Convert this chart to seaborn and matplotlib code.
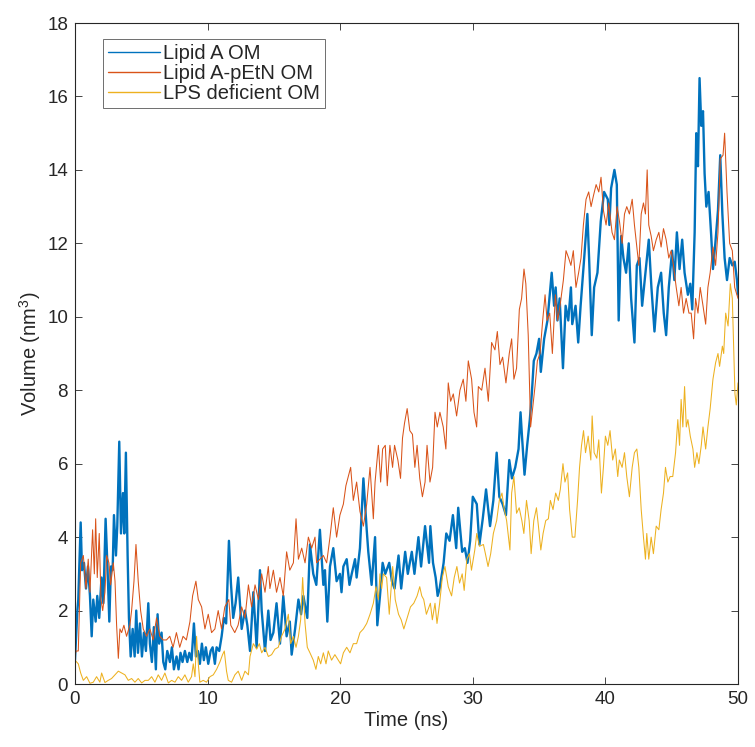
import matplotlib
matplotlib.use('Agg')
import matplotlib.pyplot as plt
import seaborn as sns
import pandas as pd

# values: time (ns) and volume (nm^3)
t_lipid_a = [0.0, 0.18, 0.25, 0.43, 0.53, 0.68, 0.83, 0.98, 1.13, 1.26, 1.38, 1.56, 1.68, 1.83, 2.0,
             2.14, 2.31, 2.46, 2.59, 2.71, 2.84, 2.94, 3.09, 3.19, 3.34, 3.47, 3.62, 3.72, 3.84, 3.97,
             4.07, 4.2, 4.35, 4.5, 4.62, 4.75, 4.9, 5.05, 5.2, 5.35, 5.53, 5.65, 5.8, 5.95, 6.1,
             6.23, 6.35, 6.53, 6.66, 6.81, 6.96, 7.16, 7.31, 7.46, 7.66, 7.81, 7.96, 8.11, 8.29, 8.47,
             8.62, 8.79, 8.97, 9.12, 9.27, 9.42, 9.57, 9.72, 9.87, 10.05, 10.23, 10.38, 10.55, 10.68, 10.88,
             11.06, 11.23, 11.4, 11.61, 11.76, 11.93, 12.11, 12.31, 12.57, 12.82, 13.0, 13.2, 13.45, 13.7, 13.95,
             14.08, 14.33, 14.58, 14.75, 14.96, 15.2, 15.46, 15.71, 15.96, 16.2, 16.34, 16.6, 16.85, 17.05, 17.22,
             17.52, 17.72, 17.97, 18.2, 18.47, 18.73, 18.85, 19.03, 19.23, 19.48, 19.73, 19.98, 20.1, 20.24, 20.49,
             20.7, 20.87, 21.12, 21.24, 21.49, 21.75, 22.0, 22.12, 22.37, 22.63, 22.8, 23.0, 23.2, 23.4, 23.7,
             23.9, 24.1, 24.4, 24.6, 24.9, 25.1, 25.4, 25.6, 25.9, 26.1, 26.4, 26.7, 26.8, 27.0, 27.2,
             27.35, 27.5, 27.8, 28.0, 28.25, 28.5, 28.75, 28.9, 29.2, 29.4, 29.6, 29.8, 30.0, 30.3, 30.5,
             30.75, 31.0, 31.3, 31.55, 31.8, 32.0, 32.25, 32.5, 32.75, 32.95, 33.2, 33.45, 33.6, 33.7, 33.9,
             34.1, 34.3, 34.45, 34.6, 34.8, 35.0, 35.13, 35.38, 35.63, 35.95, 36.13, 36.25, 36.38, 36.55, 36.8,
             37.0, 37.2, 37.4, 37.5, 37.75, 37.95, 38.13, 38.38, 38.64, 38.77, 38.97, 39.15, 39.4, 39.65, 39.9,
             40.18, 40.3, 40.43, 40.68, 40.86, 41.0, 41.19, 41.36, 41.56, 41.76, 41.94, 42.19, 42.37, 42.57, 42.77,
             43.02, 43.27, 43.47, 43.7, 43.95, 44.2, 44.4, 44.58, 44.78, 45.03, 45.2, 45.39, 45.59, 45.79, 45.97,
             46.22, 46.4, 46.55, 46.73, 46.85, 46.98, 47.1, 47.23, 47.36, 47.48, 47.61, 47.78, 47.98, 48.11, 48.29,
             48.49, 48.66, 48.82, 48.99, 49.17, 49.37, 49.57, 49.75, 49.92, 50.0]
v_lipid_a = [0.65, 2.0, 2.3, 4.4, 3.1, 3.3, 2.6, 3.2, 2.4, 1.3, 2.3, 1.7, 2.4, 1.8, 2.9,
             2.2, 4.5, 3.1, 1.7, 3.2, 3.1, 4.6, 3.5, 4.3, 6.6, 4.1, 5.2, 4.1, 6.3, 3.5,
             1.8, 0.75, 1.5, 0.75, 2.0, 0.85, 1.65, 0.75, 1.4, 0.9, 2.2, 1.1, 0.6, 1.55, 0.4,
             1.9, 1.1, 1.4, 0.6, 0.4, 0.9, 0.6, 1.0, 0.4, 0.75, 0.4, 0.85, 0.6, 0.9, 0.6,
             0.85, 0.65, 1.65, 0.75, 0.9, 0.55, 1.1, 0.65, 1.0, 0.55, 0.9, 1.0, 0.55, 1.0, 0.9,
             1.3, 1.8, 1.65, 3.9, 2.75, 1.8, 2.2, 2.9, 1.5, 2.0, 1.6, 0.9, 2.5, 1.0, 3.1,
             2.0, 0.9, 2.0, 1.2, 1.4, 2.2, 1.1, 2.4, 1.3, 1.7, 0.8, 1.5, 2.3, 1.9, 2.4,
             1.8, 3.8, 3.0, 2.7, 4.2, 2.7, 3.1, 1.7, 3.2, 3.7, 2.8, 3.0, 2.5, 3.2, 3.4,
             2.7, 3.0, 3.4, 2.9, 3.7, 5.6, 4.2, 3.6, 2.7, 4.0, 1.6, 2.4, 3.3, 3.0, 3.3,
             2.8, 2.6, 3.5, 2.6, 3.6, 3.0, 3.6, 3.0, 4.0, 3.2, 4.3, 3.3, 4.3, 3.3, 2.9,
             2.4, 2.6, 3.3, 4.1, 3.9, 4.6, 3.7, 4.8, 3.6, 3.7, 3.3, 3.9, 5.1, 4.9, 3.8,
             4.5, 5.3, 4.3, 5.0, 6.3, 5.1, 4.9, 4.6, 6.1, 5.6, 5.9, 6.4, 7.4, 6.8, 5.7,
             6.5, 7.2, 7.9, 8.8, 9.0, 9.4, 8.5, 9.4, 9.9, 11.2, 10.3, 10.8, 9.9, 10.5, 8.6,
             10.3, 9.9, 10.8, 9.8, 10.3, 9.3, 10.3, 11.5, 12.8, 11.6, 9.5, 10.8, 11.2, 12.6, 13.4,
             13.2, 12.5, 13.5, 14.0, 13.6, 9.9, 12.2, 11.6, 11.2, 12.0, 10.5, 9.3, 11.4, 11.6, 10.3,
             11.2, 12.1, 10.8, 9.6, 10.8, 11.2, 10.1, 9.5, 10.8, 11.8, 11.0, 12.3, 11.3, 12.1, 11.2,
             10.6, 10.9, 10.2, 12.3, 15.0, 14.1, 16.5, 15.2, 15.6, 13.9, 13.0, 13.4, 12.2, 11.3, 12.0,
             12.9, 14.4, 12.8, 11.6, 11.0, 11.6, 11.4, 11.5, 11.0, 10.6]

t_petn = [0.0, 0.1, 0.25, 0.43, 0.63, 0.83, 1.0, 1.13, 1.33, 1.46, 1.56, 1.68, 1.83, 1.96, 2.09,
          2.26, 2.39, 2.56, 2.69, 2.89, 3.02, 3.14, 3.27, 3.39, 3.52, 3.69, 3.89, 4.14, 4.27, 4.45,
          4.6, 4.77, 4.95, 5.15, 5.4, 5.65, 5.9, 6.15, 6.4, 6.65, 6.9, 7.15, 7.4, 7.65, 7.9,
          8.15, 8.4, 8.67, 8.87, 9.12, 9.3, 9.55, 9.8, 10.05, 10.3, 10.55, 10.8, 11.05, 11.3, 11.6,
          11.75, 12.05, 12.3, 12.57, 12.82, 13.08, 13.32, 13.58, 13.83, 14.08, 14.33, 14.58, 14.7, 14.96, 15.2,
          15.46, 15.71, 15.96, 16.2, 16.47, 16.67, 16.85, 17.1, 17.35, 17.6, 17.85, 18.1, 18.22, 18.47, 18.73,
          18.98, 19.23, 19.48, 19.73, 19.98, 20.24, 20.43, 20.79, 20.99, 21.24, 21.49, 21.75, 22.0, 22.25, 22.5,
          22.63, 22.88, 23.05, 23.2, 23.4, 23.55, 23.75, 23.95, 24.1, 24.35, 24.55, 24.7, 24.85, 25.05, 25.25,
          25.45, 25.63, 25.8, 26.0, 26.2, 26.4, 26.55, 26.77, 26.97, 27.15, 27.32, 27.52, 27.77, 27.97, 28.15,
          28.33, 28.53, 28.78, 29.03, 29.28, 29.48, 29.66, 29.91, 30.09, 30.29, 30.42, 30.67, 30.92, 31.17, 31.42,
          31.67, 31.85, 32.05, 32.25, 32.5, 32.75, 32.93, 33.1, 33.3, 33.51, 33.68, 33.86, 34.0, 34.18, 34.36,
          34.51, 34.69, 34.87, 35.07, 35.27, 35.45, 35.6, 35.8, 36.0, 36.23, 36.4, 36.58, 36.83, 37.03, 37.23,
          37.4, 37.58, 37.78, 37.98, 38.16, 38.34, 38.54, 38.74, 38.92, 39.1, 39.3, 39.5, 39.67, 39.85, 40.05,
          40.25, 40.5, 40.68, 40.88, 41.06, 41.26, 41.44, 41.61, 41.81, 42.02, 42.19, 42.37, 42.52, 42.7, 42.87,
          43.02, 43.15, 43.27, 43.45, 43.62, 43.83, 44.03, 44.2, 44.38, 44.58, 44.78, 44.96, 45.13, 45.34, 45.54,
          45.71, 45.89, 46.09, 46.3, 46.47, 46.65, 46.8, 46.98, 47.15, 47.36, 47.56, 47.73, 47.9, 48.11, 48.31,
          48.49, 48.66, 48.87, 48.99, 49.17, 49.37, 49.57, 49.75, 49.92, 50.0]
v_petn = [0.8, 0.9, 0.9, 3.3, 3.5, 2.6, 3.4, 2.5, 4.2, 3.0, 4.5, 2.9, 4.1, 2.3, 2.0,
          2.5, 3.5, 3.3, 2.7, 3.3, 2.8, 1.6, 0.7, 1.5, 1.4, 1.6, 1.3, 1.6, 2.0, 2.8,
          3.8, 2.8, 2.0, 1.5, 1.3, 1.5, 1.2, 1.8, 1.3, 1.2, 1.2, 1.3, 1.0, 1.4, 1.0,
          1.3, 1.2, 1.7, 2.4, 2.8, 2.3, 2.1, 1.5, 1.9, 1.4, 1.5, 2.0, 1.5, 2.1, 2.3,
          1.6, 1.4, 1.6, 2.1, 1.8, 2.7, 2.1, 2.7, 2.3, 3.0, 2.5, 3.2, 2.6, 3.1, 2.5,
          2.9, 2.4, 3.6, 3.1, 3.3, 4.5, 3.4, 3.7, 3.3, 4.0, 3.7, 4.0, 3.3, 3.4, 3.5,
          3.3, 4.0, 4.8, 4.0, 4.6, 4.9, 5.4, 5.9, 5.0, 5.5, 4.7, 4.3, 4.9, 5.9, 4.5,
          5.5, 6.5, 5.5, 6.4, 6.5, 5.4, 6.5, 5.9, 6.5, 6.1, 5.6, 6.7, 7.1, 7.5, 6.9,
          6.8, 5.9, 6.5, 5.6, 5.1, 5.5, 6.5, 5.5, 5.9, 7.4, 7.0, 7.4, 7.0, 6.4, 8.2,
          7.7, 7.9, 7.3, 8.0, 8.3, 7.7, 8.8, 8.3, 7.4, 7.0, 8.1, 8.0, 8.6, 7.7, 9.3,
          9.1, 9.6, 8.7, 8.9, 8.2, 9.0, 9.4, 8.3, 8.6, 10.2, 10.5, 11.3, 10.9, 9.5, 7.0,
          7.5, 8.1, 8.8, 9.0, 9.9, 10.6, 9.9, 10.1, 9.0, 10.6, 9.9, 10.3, 11.0, 11.8, 11.6,
          11.4, 11.8, 10.8, 11.2, 11.6, 12.5, 13.2, 13.4, 13.0, 13.3, 13.6, 13.4, 13.8, 12.9, 12.5,
          13.1, 12.3, 12.1, 13.0, 12.6, 12.0, 12.8, 13.0, 12.8, 13.2, 12.5, 11.9, 11.4, 12.8, 13.1,
          12.8, 14.0, 12.5, 12.2, 11.8, 12.1, 12.3, 11.9, 12.4, 12.1, 11.6, 11.8, 11.4, 10.8, 10.3,
          10.8, 10.1, 10.5, 10.1, 10.1, 9.4, 10.5, 10.1, 10.8, 10.3, 9.8, 10.8, 11.2, 11.9, 11.4,
          12.3, 14.3, 14.4, 15.0, 13.4, 12.0, 11.8, 10.8, 10.6, 10.5]

t_lps_def = [0.0, 0.25, 0.43, 0.63, 0.88, 1.13, 1.38, 1.63, 1.88, 2.01, 2.26, 2.51, 2.76, 3.02, 3.27,
             3.52, 3.77, 4.02, 4.27, 4.52, 4.77, 5.03, 5.28, 5.53, 5.78, 6.03, 6.28, 6.53, 6.78, 7.04,
             7.29, 7.54, 7.79, 8.04, 8.29, 8.54, 8.79, 8.92, 9.05, 9.17, 9.3, 9.42, 9.67, 9.92, 10.18,
             10.43, 10.68, 10.93, 11.13, 11.26, 11.43, 11.56, 11.81, 12.06, 12.31, 12.57, 12.82, 13.08, 13.2, 13.45,
             13.7, 13.9, 14.08, 14.33, 14.58, 14.83, 15.08, 15.33, 15.58, 15.84, 16.09, 16.27, 16.47, 16.67, 16.85,
             17.02, 17.17, 17.35, 17.52, 17.72, 17.97, 18.17, 18.35, 18.53, 18.73, 18.93, 19.1, 19.35, 19.6, 19.86,
             20.03, 20.24, 20.49, 20.74, 20.99, 21.24, 21.49, 21.75, 22.0, 22.25, 22.5, 22.7, 22.88, 23.0, 23.13,
             23.25, 23.5, 23.7, 23.96, 24.15, 24.4, 24.6, 24.8, 25.05, 25.3, 25.55, 25.8, 26.0, 26.15, 26.3,
             26.5, 26.8, 26.95, 27.15, 27.3, 27.5, 27.7, 27.9, 28.15, 28.4, 28.6, 28.8, 29.0, 29.2, 29.35,
             29.55, 29.75, 29.9, 30.15, 30.3, 30.5, 30.8, 30.95, 31.15, 31.35, 31.55, 31.8, 32.0, 32.2, 32.35,
             32.55, 32.8, 32.93, 33.1, 33.3, 33.5, 33.7, 33.85, 34.05, 34.25, 34.4, 34.6, 34.8, 34.95, 35.13,
             35.3, 35.5, 35.7, 35.85, 36.05, 36.25, 36.45, 36.6, 36.8, 36.95, 37.15, 37.3, 37.5, 37.7, 37.9,
             38.05, 38.2, 38.35, 38.5, 38.7, 38.9, 39.0, 39.15, 39.35, 39.5, 39.7, 39.85, 40.0, 40.18, 40.35,
             40.55, 40.75, 40.93, 41.05, 41.26, 41.44, 41.61, 41.81, 42.02, 42.19, 42.37, 42.52, 42.7, 42.87, 43.02,
             43.12, 43.27, 43.45, 43.62, 43.83, 44.03, 44.2, 44.38, 44.53, 44.71, 44.88, 45.08, 45.29, 45.46, 45.59,
             45.71, 45.84, 45.97, 46.1, 46.22, 46.4, 46.6, 46.73, 46.9, 47.05, 47.23, 47.36, 47.56, 47.73, 47.9,
             48.11, 48.31, 48.49, 48.61, 48.82, 48.92, 49.07, 49.25, 49.42, 49.57, 49.67, 49.77, 49.87, 50.0]
v_lps_def = [0.65, 0.55, 0.3, 0.1, 0.2, 0.02, 0.05, 0.2, 0.05, 0.3, 0.04, 0.1, 0.15, 0.25, 0.35,
             0.3, 0.25, 0.1, 0.15, 0.05, 0.15, 0.03, 0.1, 0.1, 0.2, 0.05, 0.25, 0.1, 0.3, 0.03,
             0.1, 0.05, 0.2, 0.1, 0.25, 0.05, 0.2, 0.55, 0.2, 1.3, 0.55, 0.05, 0.1, 0.05, 0.2,
             0.25, 0.4, 0.6, 0.8, 0.9, 0.35, 0.1, 0.05, 0.25, 0.35, 0.1, 0.35, 0.25, 0.75, 1.1,
             0.95, 1.1, 0.85, 1.0, 0.75, 0.8, 0.95, 1.0, 1.3, 1.5, 1.9, 1.1, 1.3, 1.0, 1.3,
             1.75, 2.9, 1.65, 1.0, 0.85, 0.65, 0.4, 0.75, 0.55, 0.85, 0.55, 0.9, 0.65, 0.8, 0.65,
             0.55, 0.85, 1.0, 0.85, 1.1, 1.1, 1.4, 1.5, 1.65, 1.9, 2.2, 2.65, 2.3, 3.0, 2.6,
             3.0, 2.9, 1.9, 3.2, 2.3, 1.9, 1.75, 1.5, 1.8, 2.1, 2.2, 2.4, 2.65, 2.4, 2.3,
             1.9, 2.2, 1.75, 2.2, 1.65, 2.2, 2.9, 3.2, 2.65, 2.4, 2.9, 3.2, 2.75, 3.0, 2.55,
             3.4, 3.55, 3.1, 3.65, 4.1, 3.75, 3.8, 3.55, 3.2, 3.55, 4.1, 4.45, 5.0, 5.2, 4.8,
             4.45, 3.65, 5.2, 5.65, 4.65, 4.8, 4.45, 4.1, 5.0, 4.45, 3.55, 4.45, 4.8, 4.3, 3.65,
             4.1, 4.45, 4.5, 5.0, 4.75, 5.2, 5.0, 5.3, 6.0, 5.5, 5.75, 4.75, 4.0, 4.0, 5.0,
             5.9, 6.5, 6.9, 6.3, 6.75, 6.1, 7.3, 6.3, 6.15, 6.65, 5.2, 5.9, 6.75, 6.5, 6.9,
             6.1, 6.4, 5.65, 6.1, 5.9, 6.3, 5.65, 5.1, 5.9, 6.3, 6.4, 5.9, 4.75, 4.0, 3.4,
             4.1, 3.4, 4.0, 3.55, 4.3, 4.2, 4.75, 5.2, 5.9, 5.5, 5.65, 5.65, 6.3, 7.2, 6.5,
             7.75, 7.0, 8.1, 7.0, 7.2, 6.75, 6.4, 5.9, 6.3, 6.0, 6.5, 7.0, 6.4, 7.0, 7.5,
             8.3, 8.75, 9.0, 8.65, 9.2, 9.0, 10.1, 9.75, 10.9, 10.5, 9.2, 7.9, 7.6, 8.2]

labels = ['Lipid A OM', 'Lipid A-pEtN OM', 'LPS deficient OM']
colors = ['#0072BD', '#D95319', '#EDB120']

sns.set_style('ticks')
plt.rcParams['font.family'] = ['Liberation Sans', 'DejaVu Sans']
plt.rcParams['mathtext.fontset'] = 'custom'
plt.rcParams['mathtext.rm'] = 'Liberation Sans'
ink = '#262626'

fig = plt.figure(figsize=(7.55, 7.47), dpi=100)
ax = fig.add_axes([0.0993, 0.0843, 0.8782, 0.8849])

series = [(t_lipid_a, v_lipid_a, 1.7), (t_petn, v_petn, 0.75), (t_lps_def, v_lps_def, 0.75)]
for (t, v, lw), lab, col in zip(series, labels, colors):
    df = pd.DataFrame({'time': t, 'volume': v})
    sns.lineplot(data=df, x='time', y='volume', ax=ax, color=col, linewidth=lw,
                 label=lab, estimator=None, sort=False)

ax.set_xlim(0, 50)
ax.set_ylim(0, 18)
ax.set_xticks(range(0, 51, 10))
ax.set_yticks(range(0, 19, 2))
ax.tick_params(direction='in', top=True, right=True, length=5, width=0.6,
               color=ink, labelcolor=ink, labelsize=13.5, pad=5)
for s in ax.spines.values():
    s.set_color(ink)
    s.set_linewidth(0.8)

ax.set_xlabel('Time (ns)', fontsize=14.5, color=ink, labelpad=2)
ax.set_ylabel('Volume (nm$^3$)', fontsize=14.5, color=ink, labelpad=3)

leg = ax.legend(loc='upper left', bbox_to_anchor=(0.042, 0.976), borderaxespad=0,
                fancybox=False, framealpha=1, edgecolor='#6e6e6e', fontsize=14.5,
                handlelength=2.6, handletextpad=0.15, labelspacing=0.05, borderpad=0.25)
leg.get_frame().set_linewidth(0.7)
for h in leg.get_lines():
    h.set_linewidth(1.0)
for txt in leg.get_texts():
    txt.set_color(ink)

fig.savefig('out.png', dpi=100)
